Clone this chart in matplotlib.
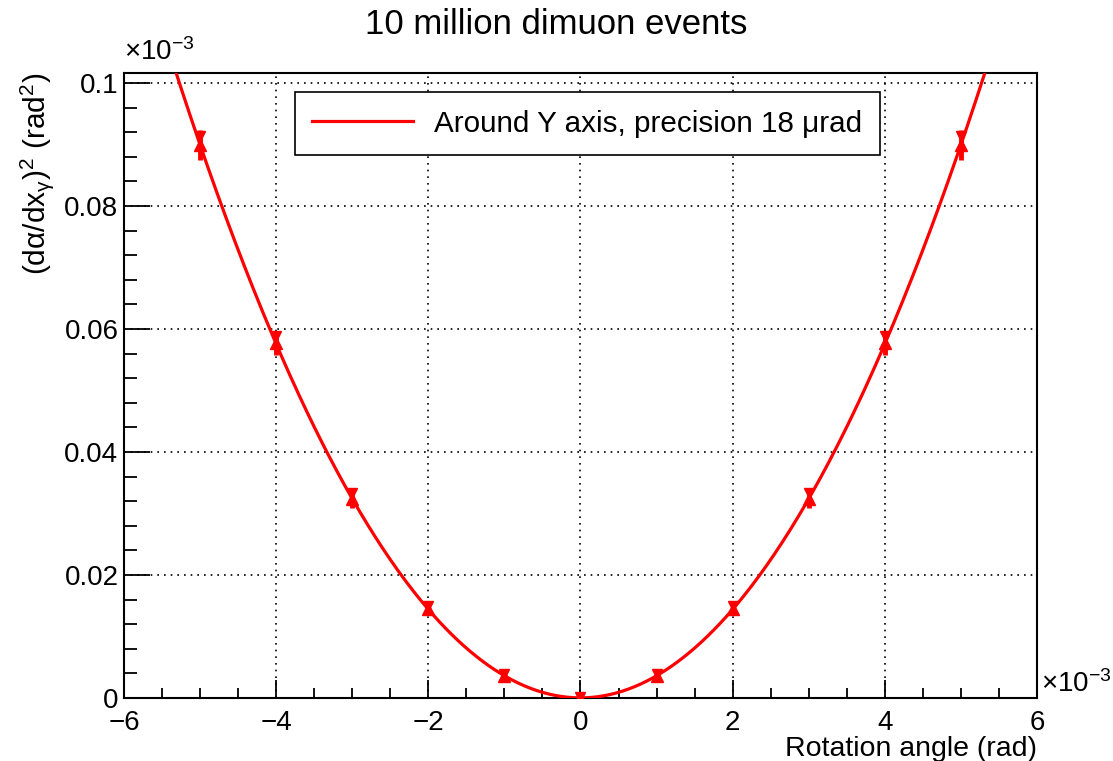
import numpy as np
import matplotlib.pyplot as plt
from matplotlib.ticker import MultipleLocator, FuncFormatter

plt.rcParams['font.family'] = ['Liberation Sans', 'DejaVu Sans']
plt.rcParams['mathtext.fontset'] = 'custom'
plt.rcParams['mathtext.rm'] = 'Liberation Sans'
plt.rcParams['mathtext.it'] = 'Liberation Sans'
plt.rcParams['mathtext.default'] = 'regular'

# rotation angle (x 1e-3 rad) and (d alpha / dx_y)^2 (x 1e-3 rad^2)
angle = np.array([-5, -4, -3, -2, -1, 0, 1, 2, 3, 4, 5], dtype=float)
value = np.array([0.0899, 0.0577, 0.0324, 0.0144, 0.0036, 0.0,
                  0.0036, 0.0144, 0.0324, 0.0577, 0.0899])
error = np.array([0.0024, 0.0020, 0.0015, 0.0008, 0.0004, 0.0002,
                  0.0004, 0.0008, 0.0015, 0.0020, 0.0024])

title = '10 million dimuon events'
legend_label = 'Around Y axis, precision 18 \u03bcrad'

fig = plt.figure(figsize=(11.13, 7.61), dpi=100)
ax = fig.add_axes([0.1114, 0.0828, 0.8203, 0.8212])

# fitted parabola
coef = np.polyfit(angle, value, 2)
xs = np.linspace(-6, 6, 600)
ax.plot(xs, np.polyval(coef, xs), color='red', lw=2.3, zorder=3, label=legend_label)

ax.errorbar(angle, value, yerr=error, fmt='^', color='red', ms=9,
            elinewidth=3.5, capsize=0, zorder=4)
ax.plot(angle, value + 0.6 * error, 'v', color='red', ms=7, zorder=4)

ax.set_xlim(-6, 6)
ax.set_ylim(0, 0.10163)
ax.xaxis.set_major_locator(MultipleLocator(2))
ax.xaxis.set_minor_locator(MultipleLocator(0.5))
ax.yaxis.set_major_locator(MultipleLocator(0.02))
ax.yaxis.set_minor_locator(MultipleLocator(0.004))
ax.yaxis.set_major_formatter(FuncFormatter(lambda v, p: '%g' % round(v, 4)))
ax.xaxis.set_major_formatter(FuncFormatter(lambda v, p: ('%g' % v).replace('-', '\u2212')))

ax.tick_params(which='both', direction='in', top=False, right=False,
               labelsize=20, width=1.3, color='black')
ax.tick_params(axis='y', which='major', length=19, pad=4)
ax.tick_params(axis='y', which='minor', length=9.5)
ax.tick_params(axis='x', which='major', length=13, pad=9)
ax.tick_params(axis='x', which='minor', length=7)
for s in ax.spines.values():
    s.set_linewidth(1.5)

ax.grid(True, which='major', color='black', linestyle=(0, (1, 3)), lw=1.2)

ax.set_xlabel('Rotation angle (rad)', fontsize=20.5, loc='right', labelpad=0)
ax.set_ylabel(r'(d$\alpha$/dx$_{\gamma}$)$^{2}$ (rad$^{2}$)', fontsize=21.5, loc='top', labelpad=6)

ax.text(0.0, 1.012, r'$\times$10$^{-3}$', transform=ax.transAxes, fontsize=20,
        ha='left', va='bottom')
ax.text(1.004, 0.0, r'$\times$10$^{-3}$', transform=ax.transAxes, fontsize=20,
        ha='left', va='bottom')

fig.suptitle(title, fontsize=25, y=0.99)

leg = ax.legend(loc='upper left', bbox_to_anchor=(0.187, 0.97), fontsize=21.3,
                frameon=True, fancybox=False, edgecolor='black', framealpha=1,
                handlelength=3.4, borderpad=0.6, handletextpad=0.7,
                borderaxespad=0)
leg.get_frame().set_linewidth(1.2)

fig.savefig('out.png', dpi=100)
